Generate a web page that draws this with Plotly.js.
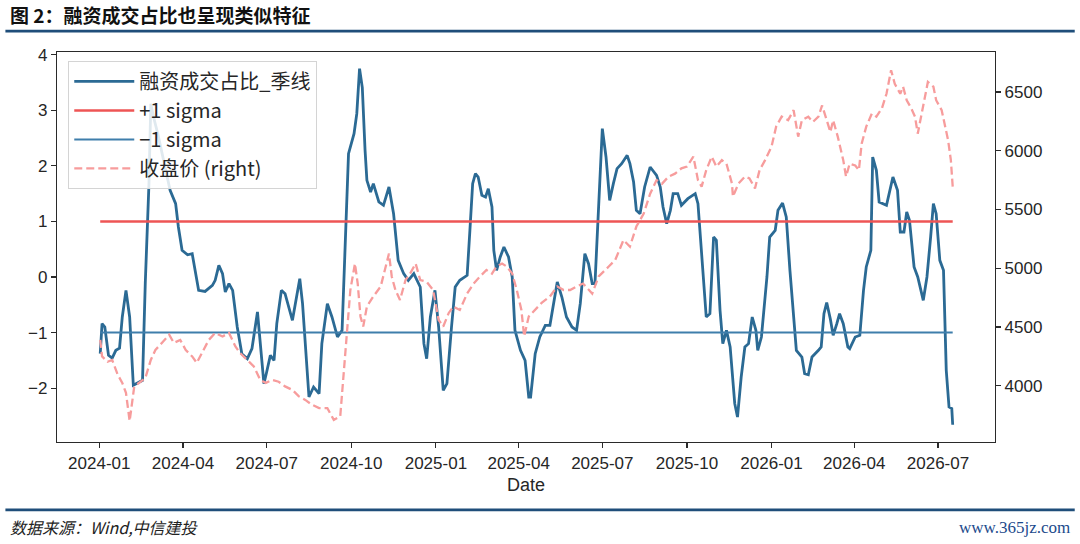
<!DOCTYPE html>
<html>
<head>
<meta charset="utf-8">
<script src="https://cdn.plot.ly/plotly-3.0.1.min.js"></script>
<style>
  html, body { margin: 0; padding: 0; background: #ffffff; }
  #chart { width: 1080px; height: 544px; }
</style>
</head>
<body>
<div id="chart"></div>
<script>
// ---------------- data ----------------
const chartTitle = '图 2：融资成交占比也呈现类似特征';
const sourceNote = '数据来源：Wind,中信建投';
const siteNote = 'www.365jz.com';
const seriesNames = ['融资成交占比_季线', '+1 sigma', '\u22121 sigma', '收盘价 (right)'];

const ratioDates = [
  '2024-01-02','2024-01-04','2024-01-07','2024-01-11','2024-01-15','2024-01-19','2024-01-23','2024-01-26','2024-01-30','2024-02-03',
  '2024-02-07','2024-02-17','2024-02-20','2024-02-24','2024-02-26','2024-02-29','2024-03-05','2024-03-13','2024-03-18','2024-03-24',
  '2024-03-27','2024-03-31','2024-04-06','2024-04-11','2024-04-15','2024-04-18','2024-04-25','2024-05-03','2024-05-06','2024-05-10',
  '2024-05-14','2024-05-17','2024-05-21','2024-05-25','2024-05-30','2024-06-04','2024-06-10','2024-06-15','2024-06-21','2024-06-24',
  '2024-06-28','2024-07-01','2024-07-05','2024-07-09','2024-07-12','2024-07-17','2024-07-21','2024-07-29','2024-08-02','2024-08-06',
  '2024-08-09','2024-08-12','2024-08-16','2024-08-21','2024-08-27','2024-08-30','2024-09-05','2024-09-10','2024-09-16','2024-09-21',
  '2024-09-25','2024-09-28','2024-10-04','2024-10-07','2024-10-10','2024-10-13','2024-10-16','2024-10-18','2024-10-22','2024-10-25',
  '2024-10-31','2024-11-05','2024-11-11','2024-11-16','2024-11-21','2024-11-27','2024-12-02','2024-12-08','2024-12-15','2024-12-19',
  '2024-12-22','2024-12-26','2024-12-31','2025-01-04','2025-01-09','2025-01-13','2025-01-18','2025-01-22','2025-01-27','2025-02-04',
  '2025-02-07','2025-02-10','2025-02-13','2025-02-16','2025-02-20','2025-02-24','2025-02-27','2025-03-03','2025-03-05','2025-03-08',
  '2025-03-12','2025-03-16','2025-03-21','2025-03-25','2025-03-28','2025-04-03','2025-04-08','2025-04-12','2025-04-14','2025-04-19',
  '2025-04-24','2025-04-30','2025-05-05','2025-05-09','2025-05-13','2025-05-18','2025-05-23','2025-05-29','2025-06-03','2025-06-07',
  '2025-06-12','2025-06-16','2025-06-20','2025-06-23','2025-06-27','2025-07-01','2025-07-05','2025-07-09','2025-07-13','2025-07-17',
  '2025-07-22','2025-07-28','2025-07-31','2025-08-04','2025-08-07','2025-08-11','2025-08-16','2025-08-22','2025-08-29','2025-09-02',
  '2025-09-05','2025-09-09','2025-09-13','2025-09-16','2025-09-21','2025-09-25','2025-10-02','2025-10-10','2025-10-13','2025-10-17',
  '2025-10-22','2025-10-26','2025-10-30','2025-11-02','2025-11-06','2025-11-09','2025-11-13','2025-11-17','2025-11-22','2025-11-25',
  '2025-11-29','2025-12-03','2025-12-07','2025-12-11','2025-12-15','2025-12-17','2025-12-21','2025-12-27','2025-12-30','2026-01-05',
  '2026-01-08','2026-01-13','2026-01-17','2026-01-21','2026-01-25','2026-01-28','2026-02-03','2026-02-06','2026-02-10','2026-02-14',
  '2026-02-21','2026-02-24','2026-02-27','2026-03-02','2026-03-06','2026-03-09','2026-03-13','2026-03-16','2026-03-20','2026-03-25',
  '2026-03-27','2026-04-02','2026-04-07','2026-04-11','2026-04-14','2026-04-19','2026-04-21','2026-04-25','2026-04-28','2026-05-06',
  '2026-05-13','2026-05-18','2026-05-21','2026-05-25','2026-05-28','2026-05-31','2026-06-05','2026-06-09','2026-06-15','2026-06-19',
  '2026-06-23','2026-06-26','2026-06-29','2026-07-03','2026-07-07','2026-07-10','2026-07-13','2026-07-16','2026-07-17'
];
const ratioValues = [
  -1.38,-0.84,-0.90,-1.41,-1.46,-1.32,-1.28,-0.72,-0.24,-0.72,
  -1.95,-1.86,-0.11,1.68,3.12,2.88,2.55,1.95,1.56,1.32,
  0.90,0.48,0.40,0.42,0.05,-0.24,-0.26,-0.15,-0.06,0.21,
  0.06,-0.27,-0.12,-0.24,-0.90,-1.38,-1.47,-1.29,-0.63,-1.14,
  -1.92,-1.71,-1.41,-1.50,-0.84,-0.24,-0.30,-0.78,-0.42,-0.03,
  -0.48,-1.14,-2.16,-1.98,-2.10,-1.20,-0.48,-0.72,-1.08,-0.96,
  1.08,2.22,2.58,2.94,3.75,3.41,2.28,1.74,1.53,1.68,
  1.35,1.29,1.62,1.14,0.30,0.06,-0.06,0.06,-0.18,-1.20,
  -1.47,-0.72,-0.24,-0.90,-2.04,-1.92,-0.90,-0.18,-0.06,0.03,
  0.84,1.68,1.86,1.80,1.47,1.44,1.59,1.26,0.48,0.12,
  0.36,0.54,0.36,0.00,-0.96,-1.32,-1.50,-2.16,-2.16,-1.38,
  -1.08,-0.87,-0.87,-0.48,-0.09,-0.36,-0.72,-0.90,-0.96,-0.48,
  0.42,0.24,-0.12,-0.12,1.20,2.67,2.16,1.38,1.68,1.95,
  2.04,2.19,2.04,1.71,1.20,1.14,1.62,1.98,1.83,1.62,
  1.26,0.96,1.20,1.50,1.50,1.29,1.41,1.50,1.32,0.36,
  -0.72,-0.66,0.72,0.66,-0.60,-1.20,-0.96,-1.26,-2.28,-2.52,
  -1.80,-1.26,-1.20,-0.72,-0.96,-1.32,-1.08,0.00,0.72,0.84,
  1.20,1.33,1.08,0.12,-0.72,-1.32,-1.44,-1.74,-1.76,-1.44,
  -1.32,-1.26,-0.66,-0.46,-0.76,-1.05,-0.84,-0.66,-0.84,-1.26,
  -1.29,-1.08,-1.05,-0.24,0.18,0.48,2.16,1.92,1.35,1.29,
  1.80,1.56,0.81,0.81,1.17,1.02,0.18,0.00,-0.42,0.00,
  0.72,1.32,1.14,0.30,0.12,-1.68,-2.34,-2.37,-2.66
];

const priceDates = [
  '2024-01-02','2024-01-04','2024-01-10','2024-01-15','2024-01-21','2024-01-26','2024-01-30','2024-02-03','2024-02-08','2024-02-15',
  '2024-02-20','2024-02-26','2024-03-02','2024-03-09','2024-03-17','2024-03-22','2024-03-29','2024-04-04','2024-04-11','2024-04-16',
  '2024-04-22','2024-04-29','2024-05-06','2024-05-14','2024-05-21','2024-05-28','2024-06-02','2024-06-10','2024-06-17','2024-06-24',
  '2024-06-30','2024-07-07','2024-07-14','2024-07-21','2024-07-29','2024-08-05','2024-08-12','2024-08-19','2024-08-27','2024-09-05',
  '2024-09-12','2024-09-19','2024-09-25','2024-09-30','2024-10-05','2024-10-08','2024-10-11','2024-10-14','2024-10-18','2024-10-25',
  '2024-11-02','2024-11-07','2024-11-11','2024-11-14','2024-11-18','2024-11-23','2024-11-29','2024-12-04','2024-12-10','2024-12-15',
  '2024-12-22','2024-12-29','2025-01-04','2025-01-09','2025-01-15','2025-01-20','2025-01-27','2025-02-04','2025-02-11','2025-02-18',
  '2025-02-25','2025-03-03','2025-03-08','2025-03-14','2025-03-19','2025-03-25','2025-03-30','2025-04-04','2025-04-07','2025-04-12',
  '2025-04-19','2025-04-26','2025-05-05','2025-05-13','2025-05-20','2025-05-27','2025-06-03','2025-06-10','2025-06-20','2025-06-27',
  '2025-07-08','2025-07-15','2025-07-24','2025-07-31','2025-08-07','2025-08-15','2025-08-22','2025-08-29','2025-09-04','2025-09-11',
  '2025-09-18','2025-09-25','2025-10-01','2025-10-08','2025-10-13','2025-10-17','2025-10-22','2025-10-28','2025-11-02','2025-11-08',
  '2025-11-13','2025-11-19','2025-11-20','2025-11-26','2025-12-03','2025-12-08','2025-12-14','2025-12-19','2025-12-25','2026-01-01',
  '2026-01-06','2026-01-12','2026-01-19','2026-01-25','2026-01-30','2026-02-03','2026-02-10','2026-02-15','2026-02-21','2026-02-25',
  '2026-03-02','2026-03-06','2026-03-09','2026-03-14','2026-03-20','2026-03-23','2026-03-27','2026-04-02','2026-04-06','2026-04-09',
  '2026-04-14','2026-04-20','2026-04-25','2026-05-01','2026-05-06','2026-05-11','2026-05-15','2026-05-21','2026-05-24','2026-05-28',
  '2026-06-02','2026-06-06','2026-06-09','2026-06-13','2026-06-17','2026-06-20','2026-06-26','2026-06-29','2026-07-05','2026-07-08',
  '2026-07-12','2026-07-15','2026-07-17'
];
const priceValues = [
  4390,4250,4205,4220,4095,4025,3940,3700,3995,4035,
  4065,4220,4305,4365,4435,4365,4390,4305,4250,4195,
  4290,4390,4450,4420,4450,4335,4280,4220,4165,4050,
  4025,4050,4035,3995,3965,3910,3880,3840,3810,3810,
  3710,3740,4305,4815,5040,4870,4590,4505,4675,4760,
  4845,5015,5125,4930,4815,4730,4900,4955,5040,4900,
  4885,4815,4560,4505,4620,4675,4645,4785,4870,4930,
  4985,4955,5015,5040,5015,4955,4815,4645,4420,4590,
  4645,4705,4760,4845,4815,4815,4845,4870,4785,4930,
  5015,5070,5240,5185,5355,5465,5635,5750,5720,5780,
  5805,5850,5865,5950,5750,5695,5835,5950,5865,5920,
  5890,5720,5610,5720,5780,5765,5680,5835,5920,6035,
  6205,6290,6260,6345,6120,6260,6290,6245,6290,6385,
  6260,6160,6260,6120,5920,5780,5890,5875,5835,6060,
  6205,6315,6290,6360,6485,6685,6570,6485,6545,6430,
  6360,6290,6145,6315,6460,6585,6545,6430,6345,6230,
  6090,5920,5695
];

const sigmaUpper = 1.0;
const sigmaLower = -1.0;

const xTickVals = ['2024-01-01','2024-04-01','2024-07-01','2024-10-01','2025-01-01','2025-04-01',
                   '2025-07-01','2025-10-01','2026-01-01','2026-04-01','2026-07-01'];
const xTickLabels = ['2024-01','2024-04','2024-07','2024-10','2025-01','2025-04',
                     '2025-07','2025-10','2026-01','2026-04','2026-07'];
const leftTickVals = [-2, -1, 0, 1, 2, 3, 4];
const rightTickVals = [4000, 4500, 5000, 5500, 6000, 6500];
const xAxisTitle = 'Date';

// ---------------- drawing ----------------
const sigmaX = [ratioDates[0], ratioDates[ratioDates.length - 1]];
const baseFont = 'Liberation Sans, Arial, Noto Sans CJK SC, sans-serif';
const cjkFont = 'Noto Sans CJK SC, Liberation Sans, sans-serif';

const traces = [
  { x: ratioDates, y: ratioValues, name: seriesNames[0], type: 'scatter', mode: 'lines',
    line: { color: '#2b6a94', width: 2.8 }, yaxis: 'y' },
  { x: sigmaX, y: [sigmaUpper, sigmaUpper], name: seriesNames[1], type: 'scatter', mode: 'lines',
    line: { color: '#ee5555', width: 2.4 }, yaxis: 'y' },
  { x: sigmaX, y: [sigmaLower, sigmaLower], name: seriesNames[2], type: 'scatter', mode: 'lines',
    line: { color: '#3f7eab', width: 2.0 }, yaxis: 'y' },
  { x: priceDates, y: priceValues, name: seriesNames[3], type: 'scatter', mode: 'lines',
    line: { color: '#f79c9c', width: 2.3, dash: '8px,4px' }, yaxis: 'y2' }
];

const axisCommon = {
  showgrid: false, zeroline: false, showline: true, linecolor: '#2a2a2a', linewidth: 1.2,
  ticks: 'outside', ticklen: 5, tickwidth: 1.2, tickcolor: '#2a2a2a',
  tickfont: { family: baseFont, size: 17, color: '#262626' }, automargin: false
};

const layout = {
  width: 1080, height: 544,
  margin: { l: 57, r: 85, t: 52, b: 102 },
  paper_bgcolor: '#ffffff', plot_bgcolor: '#ffffff',
  font: { family: baseFont, color: '#262626' },
  showlegend: true,
  legend: {
    x: 0.012, y: 0.977, xanchor: 'left', yanchor: 'top',
    bgcolor: 'rgba(255,255,255,0.85)', bordercolor: '#d4d4d4', borderwidth: 1,
    font: { family: cjkFont, size: 20, color: '#262626' },
    itemwidth: 60, traceorder: 'normal'
  },
  xaxis: Object.assign({}, axisCommon, {
    type: 'date', range: ['2023-11-16', '2026-09-01'], mirror: true,
    tickmode: 'array', tickvals: xTickVals, ticktext: xTickLabels,
    title: { text: xAxisTitle, font: { family: baseFont, size: 18, color: '#262626' }, standoff: 6 }
  }),
  yaxis: Object.assign({}, axisCommon, {
    range: [-2.97, 4.05], mirror: true, tickmode: 'array', tickvals: leftTickVals
  }),
  yaxis2: Object.assign({}, axisCommon, {
    overlaying: 'y', side: 'right', range: [3522, 6840],
    tickmode: 'array', tickvals: rightTickVals
  }),
  shapes: [
    { type: 'line', xref: 'paper', yref: 'paper', x0: -0.055, x1: 1.085, y0: 1.0535, y1: 1.0535,
      line: { color: '#1f4e7a', width: 2.6 } },
    { type: 'line', xref: 'paper', yref: 'paper', x0: -0.055, x1: 1.085, y0: -0.174, y1: -0.174,
      line: { color: '#1f4e7a', width: 2.6 } }
  ],
  annotations: [
    { text: '<b>' + chartTitle + '</b>', xref: 'paper', yref: 'paper', x: -0.0525, y: 1.097,
      xanchor: 'left', yanchor: 'middle', showarrow: false,
      font: { family: cjkFont, size: 19, color: '#111111' } },
    { text: sourceNote, xref: 'paper', yref: 'paper', x: -0.0525, y: -0.219,
      xanchor: 'left', yanchor: 'middle', showarrow: false,
      font: { family: cjkFont, size: 16, color: '#222222', style: 'italic' } },
    { text: siteNote, xref: 'paper', yref: 'paper', x: 1.0825, y: -0.219,
      xanchor: 'right', yanchor: 'middle', showarrow: false,
      font: { family: 'Liberation Serif, serif', size: 17, color: '#1c4a8c' } }
  ]
};

Plotly.newPlot('chart', traces, layout, { staticPlot: true, displayModeBar: false });
</script>
</body>
</html>
